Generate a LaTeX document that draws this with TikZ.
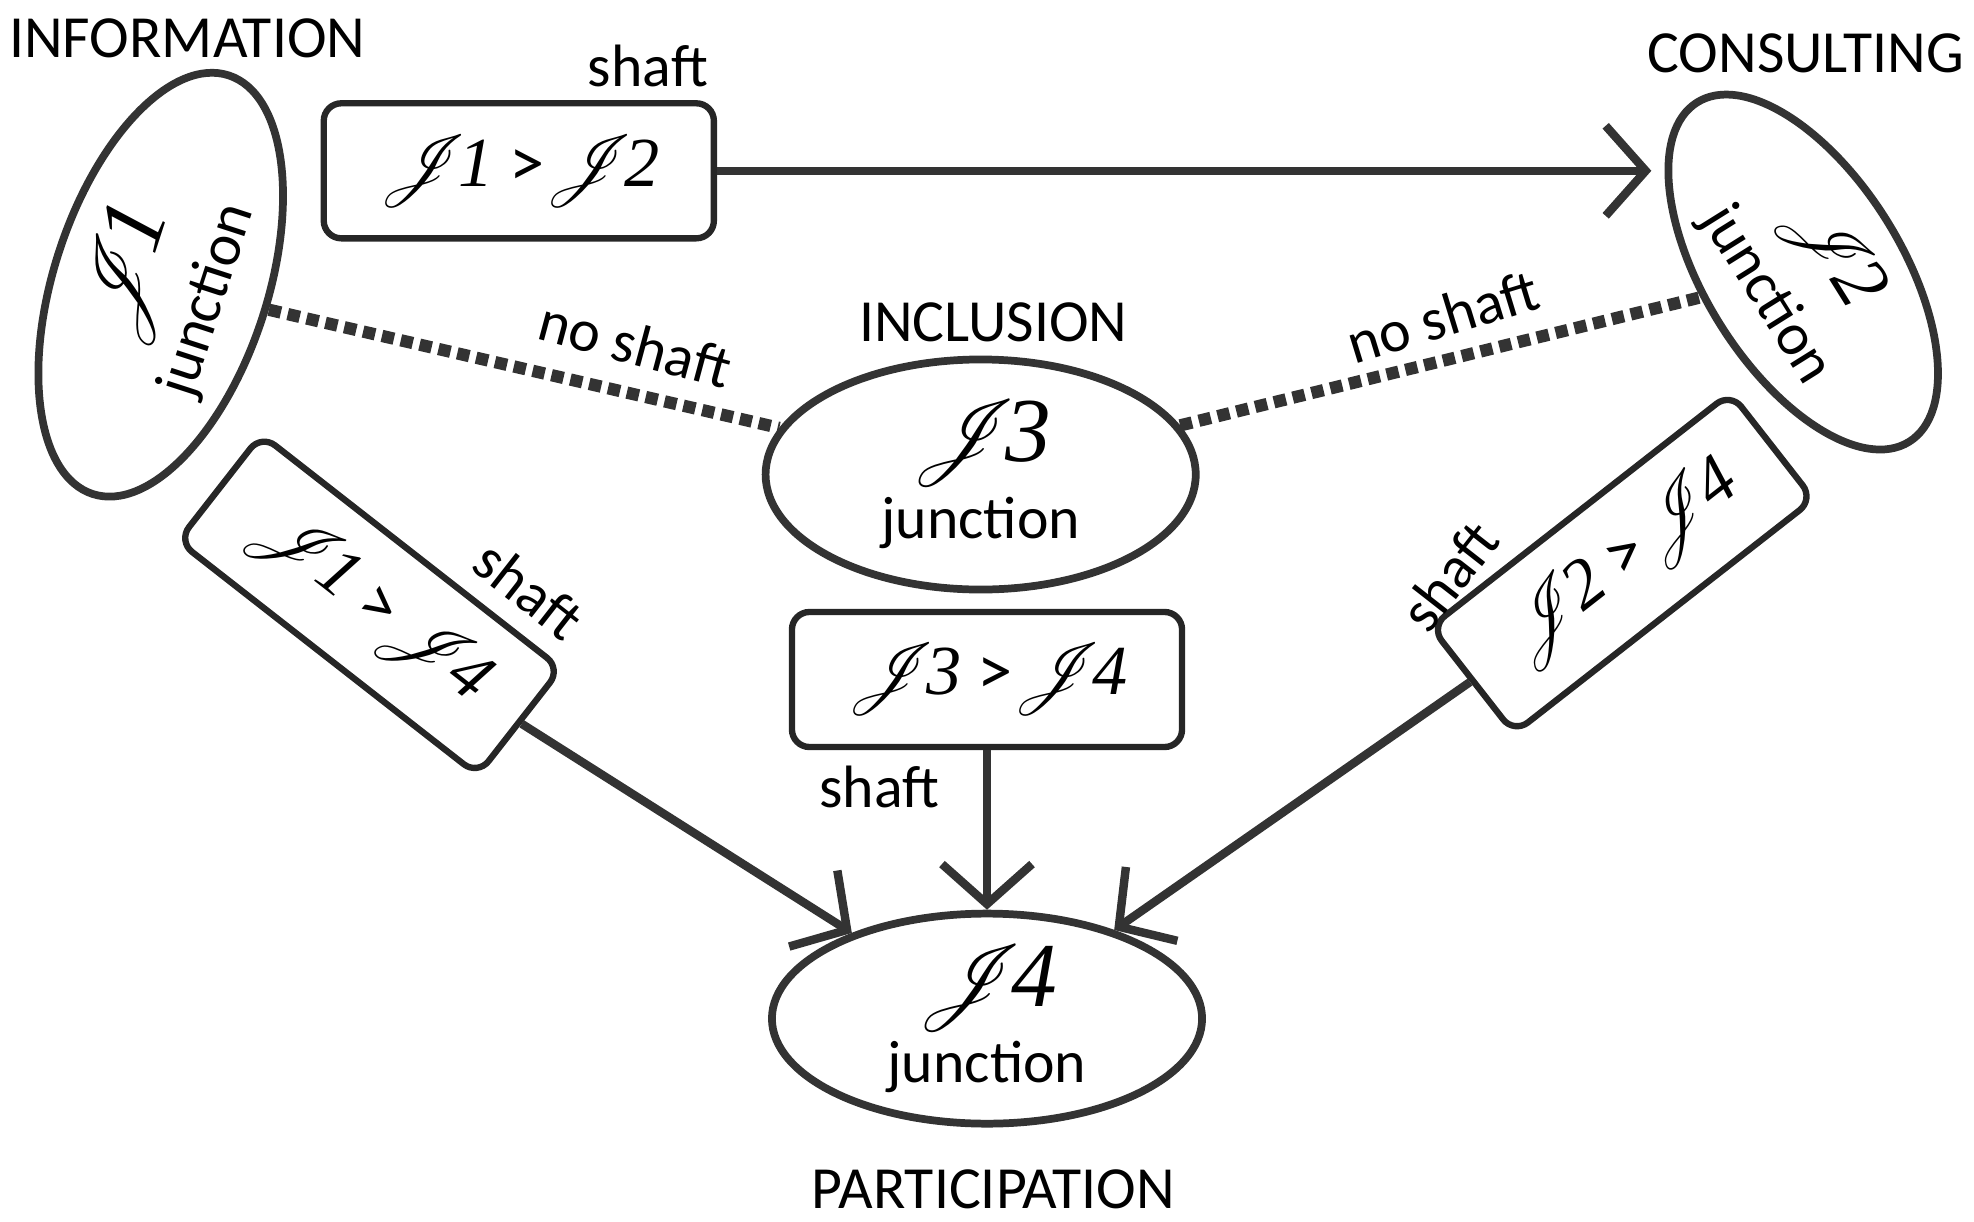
\documentclass[tikz,border=0pt]{standalone}
\usepackage{fontspec}
\setmainfont{Carlito}
\newfontfamily\scriptdigits{Liberation Serif}
\usepackage{mathrsfs}
\usetikzlibrary{arrows.meta, positioning, shapes.geometric}
\newcommand{\jn}[1]{$\mathscr{J}$\kern-0.15em{\scriptdigits\itshape #1}}

\begin{document}
\begin{tikzpicture}[
x=0.01265cm, y=-0.01265cm,
junc/.style={draw, ellipse, line width=2.2pt, draw=black!80, inner sep=0pt, align=center, font=\fontsize{17}{18}\selectfont},
link/.style={draw, rectangle, rounded corners=5pt, line width=1.8pt, draw=black!85, minimum height=1.35cm, font=\fontsize{20}{20}\selectfont},
lbl/.style={font=\fontsize{17}{17}\selectfont},
arrow/.style={-{Straight Barb[length=4mm, width=9mm]}, line width=2.4pt, draw=black!80},
noshaft/.style={dotted, line width=3.5pt, draw=black!80}
]
\useasboundingbox (0,0) rectangle (1560,965);

% junctions
\node[junc, minimum width=4.4cm, minimum height=2.1cm, rotate=72] (j1) at (127,225) {{\fontsize{26}{24}\selectfont\jn{1}}\\[3pt]junction};
\node[junc, minimum width=4.0cm, minimum height=1.75cm, rotate=-58] (j2) at (1425,215) {{\fontsize{22}{20}\selectfont\jn{2}}\\[4pt]junction};
\node[junc, minimum width=4.3cm, minimum height=2.3cm] (j3) at (775,375) {{\fontsize{26}{24}\selectfont\jn{3}}\\[2pt]junction};
\node[junc, minimum width=4.3cm, minimum height=2.1cm] (j4) at (780,805) {{\fontsize{26}{24}\selectfont\jn{4}}\\[2pt]junction};

% captions
\node[lbl] (info) at (148,30) {INFORMATION};
\node[lbl] (cons) at (1427,42) {CONSULTING};
\node[lbl] (incl) at (785,255) {INCLUSION};
\node[lbl] (part) at (785,940) {PARTICIPATION};

% shaft boxes
\node[link, minimum width=3.9cm] (b12) at (410,135) {\jn{1} >\jn{2}};
\node[link, minimum width=3.8cm, rotate=-38] (b14) at (292,478) {\jn{1} >\jn{4}};
\node[link, minimum width=3.9cm] (b34) at (780,537) {\jn{3} >\jn{4}};
\node[link, minimum width=3.8cm, rotate=38] (b24) at (1282,445) {\jn{2} >\jn{4}};

\coordinate (c2) at (1305,135);

% connectors
\draw[arrow] (b12) -- (c2);
\draw[arrow] (b14.east) -- (j4);
\draw[arrow] (b34) -- (j4);
\draw[arrow] (b24.west) -- (j4);
\draw[noshaft] (j1) -- (j3);
\draw[noshaft] (j3) -- (j2);

% edge labels
\node[lbl] (s12) at (512,52) {shaft};
\node[lbl, rotate=-38] (s14) at (418,466) {shaft};
\node[lbl] (s34) at (695,622) {shaft};
\node[lbl, rotate=52] (s24) at (1145,455) {shaft};
\node[lbl, rotate=-15] (n13) at (502,272) {no shaft};
\node[lbl, rotate=17] (n32) at (1140,250) {no shaft};
\end{tikzpicture}
\end{document}
